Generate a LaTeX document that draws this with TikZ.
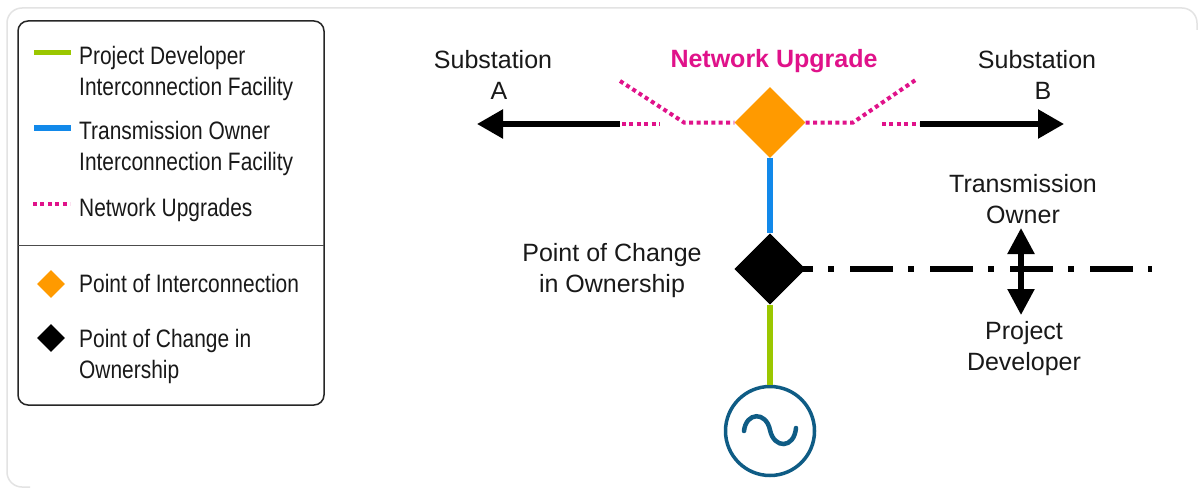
\documentclass[tikz,border=0pt]{standalone}
\usepackage{fontspec}
\setmainfont{Liberation Sans}
\newfontfamily\legendfont[FakeStretch=0.83]{Liberation Sans}
\usetikzlibrary{shapes.geometric,arrows.meta}
\definecolor{pgreen}{HTML}{9BC700}
\definecolor{tblue}{HTML}{1289EA}
\definecolor{npink}{HTML}{E0128A}
\definecolor{porange}{HTML}{FF9A00}
\definecolor{genblue}{HTML}{0F5C85}
\tikzset{
  x=1pt,y=-1pt,
  legendtext/.style={font=\legendfont\fontsize{25.2}{31}\selectfont,anchor=west,align=left,inner sep=0pt,text=black!90},
  maintext/.style={font=\fontsize{25}{31}\selectfont,align=center,inner sep=0pt,text=black!90},
  poi/.style={shape=diamond,fill=porange,inner sep=0pt,minimum width=#1,minimum height=#1},
  poco/.style={shape=diamond,fill=black,inner sep=0pt,minimum width=#1,minimum height=#1},
  legline/.style={line width=5.5pt},
  pinkdots/.style={draw=npink,line width=4pt,dash pattern=on 4pt off 3.4pt},
  blackline/.style={draw=black,line width=5.5pt},
  bigarrow/.style={blackline,-{Triangle[length=26pt,width=28pt]}},
  bothway/.style={blackline,{Triangle[length=26pt,width=26pt]}-{Triangle[length=26pt,width=26pt]}},
}
\begin{document}
\begin{tikzpicture}
\useasboundingbox (0,0) rectangle (1198,487);
\fill[white] (0,0) rectangle (1198,487);
% outer card
\coordinate (c1) at (1197,30);
\coordinate (c2) at (1197,8);
\coordinate (c3) at (7,8);
\coordinate (c4) at (7,487);
\coordinate (c5) at (30,487);
\draw[draw=black!11,line width=1.5pt,rounded corners=15pt] (c1) -- (c2) -- (c3) -- (c4) -- (c5);
% legend box
\node (legendbox) [draw=black!85,line width=1.5pt,rounded corners=10pt,minimum width=306pt,minimum height=384pt,inner sep=0pt] at (171,213) {};
\coordinate (sepL) at (18,245);
\coordinate (sepR) at (324,245);
\draw[black!70,line width=1pt] (sepL) -- (sepR);
\coordinate (lg1) at (34,52.5); \coordinate (lg2) at (71,52.5);
\coordinate (lb1) at (34,128); \coordinate (lb2) at (71,128);
\coordinate (lp1) at (33,204); \coordinate (lp2) at (70,204);
\draw[legline,pgreen] (lg1) -- (lg2);
\draw[legline,tblue] (lb1) -- (lb2);
\draw[pinkdots] (lp1) -- (lp2);
\node (t1) [legendtext] at (79,73) {Project Developer\\Interconnection Facility};
\node (t2) [legendtext] at (79,148) {Transmission Owner\\Interconnection Facility};
\node (t3) [legendtext] at (79,209.5) {Network Upgrades};
\node (t4) [legendtext] at (79,283) {Point of Interconnection};
\node (t5) [legendtext] at (79,356) {Point of Change in\\Ownership};
\node (ld1) [poi=28pt] at (51,284) {};
\node (ld2) [poco=28pt] at (51,338) {};
% main nodes
\node (orange) [poi=71pt] at (770,122.5) {};
\node (black) [poco=71pt] at (770,269) {};
\node (gen) [draw=genblue,line width=3.5pt,circle,minimum size=89pt,inner sep=0pt,fill=white] at (770,431) {};
\coordinate (own) at (1152,269);
\draw[black,line width=6pt,dash pattern=on 43pt off 15pt on 6pt off 16pt] (black.center) -- (own);
\draw[tblue,line width=6pt] (orange.south) -- (black.north);
\draw[pgreen,line width=6pt] (black.south) -- (gen.north);
\node[poco=71pt] at (black) {};
% sine
\coordinate (s1) at (744,431);
\coordinate (s2) at (796,428);
\draw[genblue,line width=4.5pt,line cap=round] (s1) .. controls (746,412) and (766,411) .. (770,430) .. controls (774,449) and (794,449) .. (s2);
% bus
\coordinate (la) at (620,124); \coordinate (lat) at (477,124);
\coordinate (lb) at (920,124); \coordinate (lbt) at (1064,124);
\draw[bigarrow] (la) -- (lat);
\draw[bigarrow] (lb) -- (lbt);
\coordinate (p1) at (622,124); \coordinate (p2) at (660,124);
\coordinate (p3) at (882,124); \coordinate (p4) at (919,124);
\coordinate (k1) at (684,122.5); \coordinate (k2) at (853,122.5);
\coordinate (d1) at (620,81); \coordinate (d2) at (917,79);
\draw[pinkdots] (p1) -- (p2);
\draw[pinkdots] (p3) -- (p4);
\draw[pinkdots] (d1) -- (k1) -- (orange.west);
\draw[pinkdots] (orange.east) -- (k2) -- (d2);
% ownership arrow
\coordinate (up) at (1021,228); \coordinate (dn) at (1021,315);
\draw[bothway] (up) -- (dn);
% labels
\node (sa) [maintext] at (493,74.5) {Substation\\\hspace*{12pt}A};
\node (sb) [maintext] at (1037,74.5) {Substation\\\hspace*{12pt}B};
\node (nu) [maintext,text=npink,font=\bfseries\fontsize{25}{31}\selectfont] at (774,61) {Network Upgrade};
\node (pc) [maintext] at (612,270.5) {Point of Change\\in Ownership};
\node (to) [maintext] at (1023,199.5) {Transmission\\Owner};
\node (pd) [maintext] at (1024,349) {Project\\Developer};
\end{tikzpicture}
\end{document}
